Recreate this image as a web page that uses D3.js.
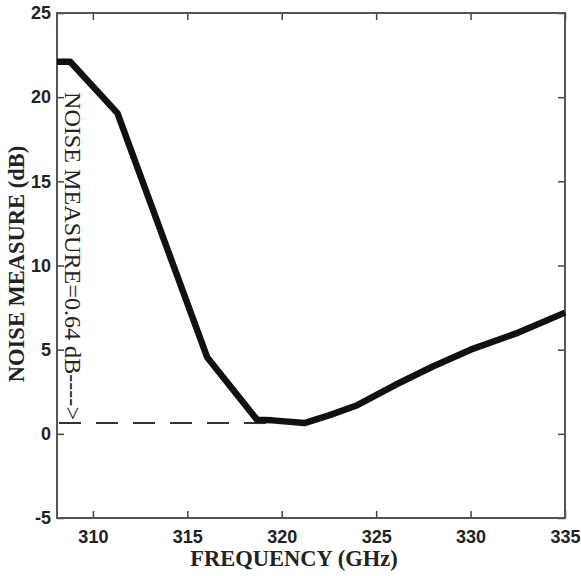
<!DOCTYPE html>
<html>
<head>
<meta charset="utf-8">
<script src="https://cdn.jsdelivr.net/npm/d3@7"></script>
<style>
  body { margin: 0; background: #fff; }
  .tick text { font-family: "Liberation Sans", Arial, sans-serif; font-weight: bold; font-size: 18px; fill: #222; }
  .domain { display: none; }
  .tick line { stroke: #444; stroke-width: 1.5; }
  .title { font-family: "Liberation Serif", "Times New Roman", serif; font-weight: bold; font-size: 22.5px; fill: #222; }
  .note { font-family: "Liberation Serif", "Times New Roman", serif; font-size: 23px; fill: #222; }
</style>
</head>
<body>
<div id="chart"></div>
<script>
// noise measure vs frequency
var freq = [308.1, 308.8, 311.3, 316.05, 318.7, 319.5, 321.2, 322.5, 324.0, 326.0, 328.0, 330.0, 332.5, 335.0];
var noise = [22.1, 22.1, 19.05, 4.55, 0.83, 0.8, 0.64, 1.1, 1.7, 2.9, 4.0, 5.0, 6.0, 7.2];
var xTicks = [310, 315, 320, 325, 330, 335];
var yTicks = [-5, 0, 5, 10, 15, 20, 25];
var minNoise = 0.64;

var width = 581, height = 576;
var margin = { top: 13, right: 16, bottom: 58, left: 57 };

var svg = d3.select('#chart')
  .append('svg')
    .attr('width', width)
    .attr('height', height);

var x = d3.scaleLinear()
  .domain([308.1, 335])
  .range([margin.left, width - margin.right]);

var y = d3.scaleLinear()
  .domain([-5, 25])
  .range([height - margin.bottom, margin.top]);

var tk = 7;
var plain = function(d) { return String(d); }; // keep the hyphen minus

// bottom axis
svg.append('g')
  .attr('transform', 'translate(0,' + y(-5) + ')')
  .call(d3.axisBottom(x).tickValues(xTicks).tickFormat(plain).tickSizeInner(-tk).tickSizeOuter(0).tickPadding(12))
  .selectAll('.tick text').attr('dy', '0.71em');

// top axis (ticks only)
svg.append('g')
  .attr('transform', 'translate(0,' + y(25) + ')')
  .call(d3.axisTop(x).tickValues(xTicks).tickSizeInner(-tk).tickSizeOuter(0).tickFormat(''));

// left axis
svg.append('g')
  .attr('transform', 'translate(' + x.range()[0] + ',0)')
  .call(d3.axisLeft(y).tickValues(yTicks).tickFormat(plain).tickSizeInner(-tk).tickSizeOuter(0).tickPadding(6));

// right axis (ticks only)
svg.append('g')
  .attr('transform', 'translate(' + x.range()[1] + ',0)')
  .call(d3.axisRight(y).tickValues(yTicks).tickSizeInner(-tk).tickSizeOuter(0).tickFormat(''));

// frame
svg.append('rect')
  .attr('x', x.range()[0])
  .attr('y', y(25))
  .attr('width', x.range()[1] - x.range()[0])
  .attr('height', y(-5) - y(25))
  .attr('fill', 'none')
  .attr('stroke', '#555')
  .attr('stroke-width', 2);

// dashed marker of the minimum
svg.append('line')
  .attr('x1', x.range()[0] + 2)
  .attr('x2', x(319.2))
  .attr('y1', y(minNoise))
  .attr('y2', y(minNoise))
  .attr('stroke', '#333')
  .attr('stroke-width', 2)
  .attr('stroke-dasharray', '22,15');

// curve
var line = d3.line()
  .x(function(d, i) { return x(freq[i]); })
  .y(function(d, i) { return y(noise[i]); });

svg.append('path')
  .datum(freq)
  .attr('d', line)
  .attr('fill', 'none')
  .attr('stroke', '#111')
  .attr('stroke-width', 6.5)
  .attr('stroke-linejoin', 'round');

// annotation
svg.append('text')
  .attr('class', 'note')
  .attr('transform', 'translate(65,92) rotate(90)')
  .attr('textLength', 328)
  .attr('lengthAdjust', 'spacingAndGlyphs')
  .text('NOISE MEASURE=' + minNoise + ' dB---->');

// axis titles
svg.append('text')
  .attr('class', 'title')
  .attr('text-anchor', 'middle')
  .attr('transform', 'translate(24,264) rotate(-90)')
  .text('NOISE MEASURE (dB)');

svg.append('text')
  .attr('class', 'title')
  .attr('text-anchor', 'middle')
  .attr('x', 294)
  .attr('y', 566)
  .text('FREQUENCY (GHz)');
</script>
</body>
</html>
